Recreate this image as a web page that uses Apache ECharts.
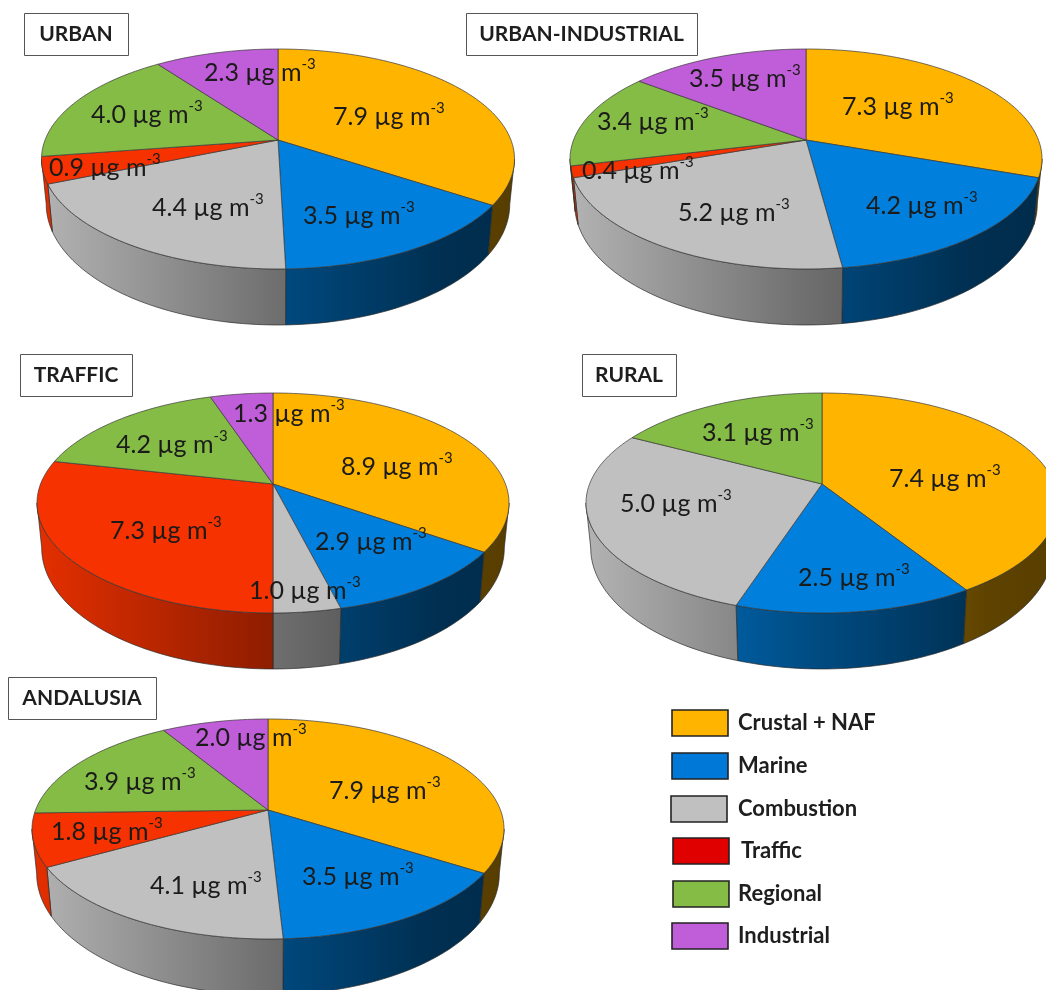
<!DOCTYPE html>
<html>
<head>
<meta charset="utf-8">
<style>html,body{margin:0;padding:0;background:#fff}#chart{width:1046px;height:990px}</style>
<script src="https://cdn.jsdelivr.net/npm/echarts@6/dist/echarts.min.js"></script>
</head>
<body>
<div id="chart"></div>
<script>
// PM source contributions (µg m-3) per monitoring environment
const categories = ['Crustal + NAF', 'Marine', 'Combustion', 'Traffic', 'Regional', 'Industrial'];
const urbanValues = [7.9, 3.5, 4.4, 0.9, 4.0, 2.3];
const urbanIndustrialValues = [7.3, 4.2, 5.2, 0.4, 3.4, 3.5];
const trafficValues = [8.9, 2.9, 1.0, 7.3, 4.2, 1.3];
const ruralValues = [7.4, 2.5, 5.0, 0, 3.1, 0];
const andalusiaValues = [7.9, 3.5, 4.1, 1.8, 3.9, 2.0];

const sliceColors = ['#FFB400', '#0080DC', '#C0C0C0', '#F53200', '#85BC45', '#C05DD8'];
const legendColors = ['#FFB400', '#0078D7', '#C0C0C0', '#E00000', '#85BC45', '#C05DD8'];

// Disc layout: apex position and outline extents of each tilted pie
const pies = [
  { name: 'URBAN', values: urbanValues, cx: 278, cy: 140, halfW: 236.5, box: [24, 13, 104, 42],
    labels: [[333,117],[303,216],[152,208],[49,168],[91,115],[204,73]] },
  { name: 'URBAN-INDUSTRIAL', values: urbanIndustrialValues, cx: 806, cy: 140, halfW: 236, box: [466, 13, 231, 42],
    labels: [[842,107],[866,206],[678,213],[582,171],[597,122],[689,79]] },
  { name: 'TRAFFIC', values: trafficValues, cx: 273, cy: 484, halfW: 236, box: [20, 354, 112, 42],
    labels: [[341,467],[315,542],[249,591],[110,531],[116,445],[233,414]] },
  { name: 'RURAL', values: ruralValues, cx: 822, cy: 484, halfW: 236, box: [582, 354, 94, 42],
    labels: [[889,479],[798,578],[620,504],null,[702,433],null] },
  { name: 'ANDALUSIA', values: andalusiaValues, cx: 268, cy: 810, halfW: 236, box: [8, 677, 148, 42],
    labels: [[329,791],[302,877],[150,886],[51,832],[84,782],[195,738]] }
];

// Perspective of the disc plane and the thickness of its rim
const TILT = 0.1727;
const DEPTH_SCALE = 106.7;
const RIM_NARROW = 0.98;
const FONT = 'Lato, "Open Sans", sans-serif';

// Brightness of the rim from the left silhouette to the right one
const rimShade = [[0, 0.93], [0.5, 0.58], [0.85, 0.37], [1, 0.34]];

function shadeColor(hex, k) {
  const n = parseInt(hex.slice(1), 16);
  const c = [(n >> 16) & 255, (n >> 8) & 255, n & 255].map(v => Math.round(v * k));
  return 'rgb(' + c.join(',') + ')';
}

function topPoint(pie, deg) {
  const a = deg * Math.PI / 180;
  const w = 1 + TILT * Math.cos(a);
  const widthScale = pie.halfW * Math.sqrt(1 - TILT * TILT);
  return [pie.cx + widthScale * Math.sin(a) / w, pie.cy - DEPTH_SCALE * Math.cos(a) / w];
}

function bottomPoint(pie, deg) {
  const p = topPoint(pie, deg);
  const rel = p[1] - pie.cy;
  return [pie.cx + (p[0] - pie.cx) * RIM_NARROW, p[1] + 56 - (129 - rel) * 0.1];
}

function arcPoints(pie, from, to, fn) {
  const steps = Math.max(2, Math.ceil(Math.abs(to - from) / 1.5));
  const pts = [];
  for (let i = 0; i <= steps; i++) pts.push(fn(pie, from + (to - from) * i / steps));
  return pts;
}

function buildSeries(pie) {
  const total = pie.values.reduce((s, v) => s + v, 0);
  const rows = [];
  let cum = 0;
  pie.values.forEach((v, i) => {
    if (v > 0) rows.push({ cat: i, value: v, from: cum / total * 360, to: (cum + v) / total * 360 });
    cum += v;
  });
  const rimLimit = Math.acos(-TILT) * 180 / Math.PI;
  return {
    type: 'custom',
    name: pie.name,
    coordinateSystem: 'none',
    silent: true,
    animation: false,
    clip: false,
    data: rows.map(r => [r.cat, r.value]),
    renderItem: function (params, api) {
      const r = rows[params.dataIndex];
      const base = sliceColors[api.value(0)];
      const children = [];
      const rimFrom = Math.max(r.from, rimLimit);
      const rimTo = Math.min(r.to, 360 - rimLimit);
      if (rimTo > rimFrom) {
        const pts = arcPoints(pie, rimFrom, rimTo, topPoint)
          .concat(arcPoints(pie, rimTo, rimFrom, bottomPoint));
        children.push({
          type: 'polygon',
          shape: { points: pts },
          style: {
            fill: {
              type: 'linear', global: true,
              x: pie.cx - pie.halfW, y: 0, x2: pie.cx + pie.halfW, y2: 0,
              colorStops: rimShade.map(s => ({ offset: s[0], color: shadeColor(base, s[1]) }))
            },
            stroke: '#2b2b2b', lineWidth: 0.7
          }
        });
      }
      children.push({
        type: 'polygon',
        shape: { points: [[pie.cx, pie.cy]].concat(arcPoints(pie, r.from, r.to, topPoint)) },
        style: { fill: base, stroke: '#3a3a3a', lineWidth: 0.7 }
      });
      return { type: 'group', children: children };
    }
  };
}

// Value labels sit above every slice, so they go in a series of their own
function buildLabelSeries(pie) {
  const rows = pie.values.map((v, i) => ({ v: v, at: pie.labels[i] })).filter(r => r.v > 0);
  return {
    type: 'custom',
    coordinateSystem: 'none',
    silent: true,
    animation: false,
    z: 5,
    data: rows.map(r => [r.v]),
    renderItem: function (params, api) {
      const at = rows[params.dataIndex].at;
      return {
        type: 'text',
        style: {
          x: at[0], y: at[1],
          text: '{a|' + api.value(0).toFixed(1) + ' µg m}{s|-3}',
          align: 'left', verticalAlign: 'middle',
          rich: {
            a: { fontFamily: FONT, fontSize: 25, fill: '#1b1b1b', lineHeight: 32, verticalAlign: 'middle' },
            s: { fontFamily: FONT, fontSize: 15, fill: '#1b1b1b', lineHeight: 32, verticalAlign: 'top' }
          }
        }
      };
    }
  };
}

const graphics = [];
pies.forEach(p => {
  graphics.push({
    type: 'rect', silent: true,
    shape: { x: p.box[0] + 0.5, y: p.box[1] + 0.5, width: p.box[2], height: p.box[3] },
    style: { fill: '#fff', stroke: '#555', lineWidth: 1 }
  });
  graphics.push({
    type: 'text', silent: true,
    style: {
      x: p.box[0] + p.box[2] / 2, y: p.box[1] + p.box[3] / 2 + 0.5, text: p.name,
      align: 'center', verticalAlign: 'middle',
      font: 'bold 21px ' + FONT, fill: '#1e1e1e'
    }
  });
});

// Legend rows down the lower right corner
const legendRows = [[672, 710], [672, 753], [671, 796], [673, 838], [673, 881], [672, 923]];
categories.forEach((name, i) => {
  const pos = legendRows[i];
  graphics.push({
    type: 'rect', silent: true,
    shape: { x: pos[0], y: pos[1], width: 56, height: 26 },
    style: { fill: legendColors[i], stroke: '#222', lineWidth: 1.6 }
  });
  graphics.push({
    type: 'text', silent: true,
    style: {
      x: i === 3 ? 741 : 738, y: pos[1] + 13, text: name,
      align: 'left', verticalAlign: 'middle',
      font: 'bold 22px ' + FONT, fill: '#1e1e1e'
    }
  });
});

const chart = echarts.init(document.getElementById('chart'), null, { renderer: 'canvas' });
chart.setOption({
  backgroundColor: '#ffffff',
  animation: false,
  graphic: graphics,
  series: pies.map(buildSeries).concat(pies.map(buildLabelSeries))
});
</script>
</body>
</html>
